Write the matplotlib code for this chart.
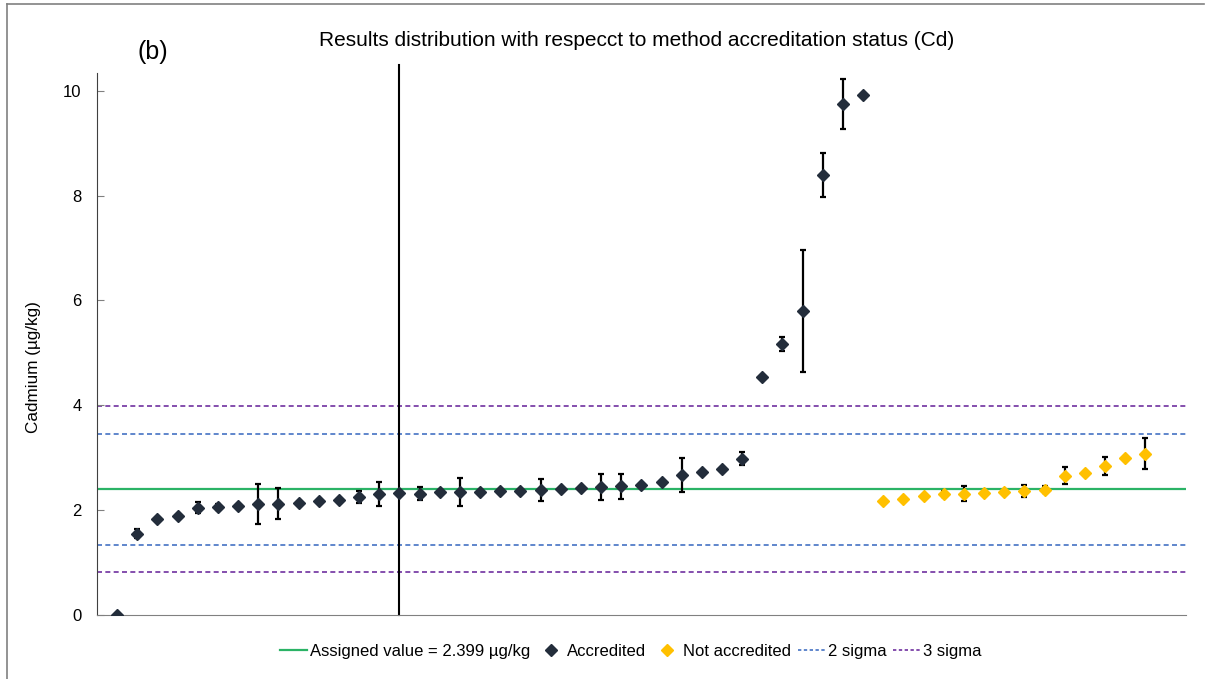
import matplotlib
matplotlib.use('Agg')
import matplotlib.pyplot as plt
from matplotlib.lines import Line2D

plt.rcParams['font.family'] = ['Liberation Sans', 'DejaVu Sans']

# accredited labs (sorted results) and their uncertainties
acc_vals = [0.0, 1.556, 1.835, 1.892, 2.051, 2.064, 2.083, 2.114, 2.127, 2.133,
            2.171, 2.19, 2.248, 2.305, 2.324, 2.317, 2.343, 2.349, 2.355, 2.362,
            2.375, 2.387, 2.413, 2.425, 2.444, 2.457, 2.489, 2.533, 2.667, 2.73,
            2.78, 2.984, 4.54, 5.175, 5.80, 8.39, 9.746, 9.91]
acc_err = [0, 0.08, 0, 0, 0.11, 0.05, 0, 0.38, 0.30, 0,
           0, 0, 0.11, 0.23, 0, 0.13, 0, 0.27, 0, 0,
           0, 0.21, 0, 0, 0.25, 0.24, 0, 0, 0.32, 0,
           0, 0.13, 0, 0.13, 1.17, 0.42, 0.47, 0]

# not accredited labs
nacc_vals = [2.184, 2.222, 2.28, 2.311, 2.317, 2.33, 2.349, 2.368, 2.394, 2.66,
             2.718, 2.845, 2.996, 3.079]
nacc_err = [0, 0, 0, 0.05, 0.14, 0, 0, 0.11, 0.06, 0.16, 0, 0.17, 0, 0.30]

assigned = 2.399
sigma = 0.527

acc_x = list(range(1, len(acc_vals) + 1))
nacc_x = list(range(len(acc_vals) + 1, len(acc_vals) + len(nacc_vals) + 1))

fig = plt.figure(figsize=(12.05, 6.79), dpi=100)
ax = fig.add_axes([0.0805, 0.094, 0.9035, 0.798])

c_acc = '#232d3b'
c_nacc = '#FFC000'

ax.axhline(assigned, color='#2bb366', lw=1.6, zorder=1)
for k, col in [(2, '#4472C4'), (3, '#7030A0')]:
    ax.axhline(assigned + k * sigma, color=col, lw=1.2, ls=(0, (3, 2)), zorder=1)
    ax.axhline(assigned - k * sigma, color=col, lw=1.2, ls=(0, (3, 2)), zorder=1)

ax.plot([15, 15], [0, 10.48], color='black', lw=1.5, clip_on=False, zorder=2)

ax.errorbar(acc_x, acc_vals, yerr=acc_err, fmt='D', color=c_acc, ms=6.5,
            ecolor='black', elinewidth=1.6, capsize=2.5, capthick=1.6, zorder=3)
ax.errorbar(nacc_x, nacc_vals, yerr=nacc_err, fmt='D', color=c_nacc, ms=6.5,
            ecolor='black', elinewidth=1.6, capsize=2.5, capthick=1.6, zorder=3)

ax.set_xlim(0, 54)
ax.set_ylim(0, 10.33)
ax.set_xticks([])
ax.set_yticks([0, 2, 4, 6, 8, 10])
ax.tick_params(axis='y', direction='in', length=5, color='#808080', labelsize=12, pad=11)
for s in ['top', 'right']:
    ax.spines[s].set_visible(False)
ax.spines['left'].set_color('#404040')
ax.spines['bottom'].set_color('#808080')
fig.text(0.0282, 0.4595, 'Cadmium (µg/kg)', rotation=90, ha='center', va='center',
         fontsize=12.3)

fig.text(0.5285, 0.941, 'Results distribution with respecct to method accreditation status (Cd)',
         ha='center', va='center', fontsize=15)
fig.text(0.127, 0.923, '(b)', ha='center', va='center', fontsize=18)

handles = [
    Line2D([], [], color='#2bb366', lw=1.6),
    Line2D([], [], color=c_acc, marker='D', ls='none', ms=6.5),
    Line2D([], [], color=c_nacc, marker='D', ls='none', ms=6.5),
    Line2D([], [], color='#4472C4', lw=1.2, ls=(0, (2, 1.5))),
    Line2D([], [], color='#7030A0', lw=1.2, ls=(0, (2, 1.5))),
]
labels = ['Assigned value = 2.399 µg/kg', 'Accredited', 'Not accredited', '2 sigma', '3 sigma']
fig.legend(handles, labels, loc='center', bbox_to_anchor=(0.5237, 0.041), ncol=5,
           frameon=False, fontsize=12, handlelength=1.6, handletextpad=0.2,
           columnspacing=0.4, borderpad=0)

# frame lines around the picture
fig.add_artist(Line2D([0.006, 0.999], [0.994, 0.994], color='#808080', lw=1.2))
fig.add_artist(Line2D([0.006, 0.006], [0.0, 0.994], color='#808080', lw=1.2))

fig.savefig('out.png', dpi=100)
